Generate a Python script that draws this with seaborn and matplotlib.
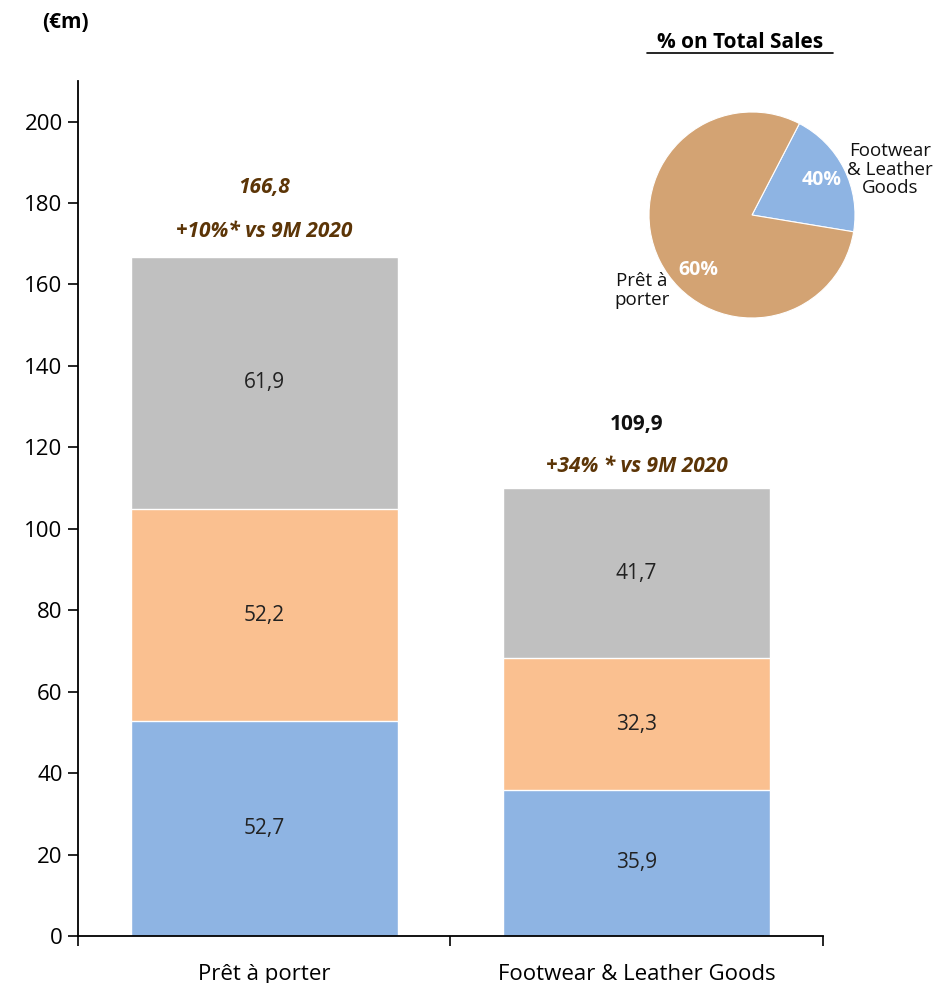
import matplotlib
matplotlib.use("Agg")
import matplotlib.pyplot as plt
import seaborn as sns
import pandas as pd
from matplotlib.lines import Line2D

# data
categories = ["Prêt à porter", "Footwear & Leather Goods"]
blue_vals = [52.7, 35.9]
orange_vals = [52.2, 32.3]
gray_vals = [61.9, 41.7]
totals = [166.8, 109.9]
growth_labels = ["+10%* vs 9M 2020", "+34% * vs 9M 2020"]
total_labels = ["166,8", "109,9"]

pie_names = ["Footwear\n& Leather\nGoods", "Prêt à\nporter"]
pie_pct_labels = ["40%", "60%"]
pie_drawn_share = [20, 80]   # slice sizes as drawn in the reference

c_blue = "#8EB4E3"
c_orange = "#FAC090"
c_gray = "#C0C0C0"
c_tan = "#D3A373"
c_brown = "#5C3507"

sns.set_theme(style="white")
plt.rcParams["font.family"] = ["Open Sans", "DejaVu Sans"]
plt.rcParams["text.color"] = "black"
plt.rcParams["xtick.color"] = "black"
plt.rcParams["ytick.color"] = "black"

df = pd.DataFrame({
    "cat": categories,
    "blue": blue_vals,
    "orange": orange_vals,
    "gray": gray_vals,
})
df["lvl1"] = df["blue"]
df["lvl2"] = df["blue"] + df["orange"]
df["lvl3"] = df["lvl2"] + df["gray"]

fig = plt.figure(figsize=(9.45, 9.83), dpi=100)
ax = fig.add_axes([0.0825, 0.0478, 0.788, 0.870])

bw = 0.717
for col, colr in [("lvl3", c_gray), ("lvl2", c_orange), ("lvl1", c_blue)]:
    sns.barplot(data=df, x="cat", y=col, order=categories, color=colr,
                width=bw, saturation=1, ax=ax, zorder=2)

# segment labels
for i in range(len(categories)):
    mids = [blue_vals[i] / 2,
            blue_vals[i] + orange_vals[i] / 2,
            blue_vals[i] + orange_vals[i] + gray_vals[i] / 2]
    for m, v in zip(mids, [blue_vals[i], orange_vals[i], gray_vals[i]]):
        ax.text(i, m, f"{v:.1f}".replace(".", ","), ha="center", va="center",
                fontsize=15, color="#222222", zorder=3)

# totals and growth
ax.text(0, totals[0] + 17, total_labels[0], ha="center", va="center",
        fontsize=15, fontweight="bold", fontstyle="italic", color=c_brown)
ax.text(0, totals[0] + 6.3, growth_labels[0], ha="center", va="center",
        fontsize=15, fontweight="bold", fontstyle="italic", color=c_brown)
ax.text(1, totals[1] + 15.8, total_labels[1], ha="center", va="center",
        fontsize=15, fontweight="bold", color="#111111")
ax.text(1, totals[1] + 5.5, growth_labels[1], ha="center", va="center",
        fontsize=15, fontweight="bold", fontstyle="italic", color=c_brown)

ax.set_xlim(-0.5, 1.5)
ax.set_ylim(0, 210)
ax.set_yticks(range(0, 201, 20))
ax.set_xlabel("")
ax.set_ylabel("")
ax.set_xticks([0, 1])
ax.set_xticklabels(categories, fontsize=16)
ax.set_xticks([-0.5, 0.5, 1.5], minor=True)
ax.tick_params(axis="x", which="major", bottom=False, length=0, pad=20)
ax.tick_params(axis="x", which="minor", bottom=True, length=7, width=1.2,
               color="black", direction="out")
ax.tick_params(axis="y", left=True, length=7, width=1.2, color="black",
               direction="out", labelsize=16, pad=4)
for s in ["top", "right"]:
    ax.spines[s].set_visible(False)
for s in ["left", "bottom"]:
    ax.spines[s].set_color("black")
    ax.spines[s].set_linewidth(1.3)

fig.text(65 / 945, 1 - 22 / 983, "(€m)", ha="center", va="center",
         fontsize=15, fontweight="bold")

# pie inset
pax = fig.add_axes([649 / 945, 1 - 318 / 983, 206 / 945, 206 / 983])
pax.pie(pie_drawn_share, colors=[c_blue, c_tan], startangle=-9.4,
        counterclock=True, wedgeprops=dict(linewidth=0.8, edgecolor="white"))
pax.set_xlim(-1, 1)
pax.set_ylim(-1, 1)
pax.set_aspect("equal")
pax.axis("off")
pax.text(0.68, 0.34, pie_pct_labels[0], ha="center", va="center",
         fontsize=14, fontweight="bold", color="white")
pax.text(-0.52, -0.53, pie_pct_labels[1], ha="center", va="center",
         fontsize=14, fontweight="bold", color="white")
pax.text(1.34, 0.44, pie_names[0], ha="center", va="center",
         fontsize=13.5, color="#111111", linespacing=1.05, clip_on=False)
pax.text(-1.07, -0.73, pie_names[1], ha="center", va="center",
         fontsize=13.5, color="#111111", linespacing=1.05, clip_on=False)

fig.text(740 / 945, 1 - 42 / 983, "% on Total Sales", ha="center", va="center",
         fontsize=15, fontweight="bold")
fig.add_artist(Line2D([647 / 945, 833 / 945], [1 - 53 / 983, 1 - 53 / 983],
                      color="black", linewidth=1.2))

fig.savefig("out.png", dpi=100)
